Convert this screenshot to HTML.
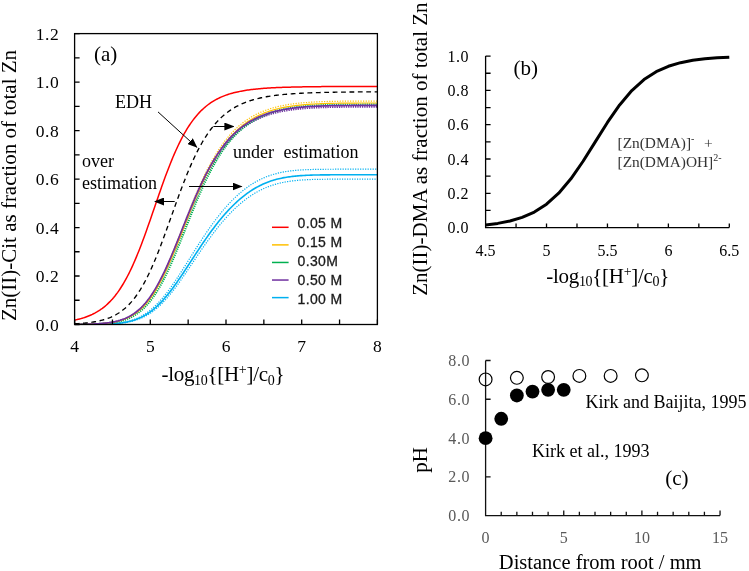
<!DOCTYPE html>
<html><head><meta charset="utf-8"><style>
html,body{margin:0;padding:0;background:#fff;}
svg{display:block;will-change:transform;}
</style></head><body>
<svg width="749" height="571" viewBox="0 0 749 571">
<rect width="749" height="571" fill="#fff"/>
<defs><clipPath id="ca"><rect x="74.6" y="33.6" width="302.79999999999995" height="290.9"/></clipPath><marker id="ah" markerWidth="10" markerHeight="8" refX="9" refY="4" orient="auto" markerUnits="userSpaceOnUse"><path d="M0,0 L10,4 L0,8 z" fill="#000"/></marker></defs>
<g clip-path="url(#ca)">
<path d="M74.60,324.49 L75.86,324.49 L77.12,324.49 L78.38,324.49 L79.65,324.48 L80.91,324.48 L82.17,324.48 L83.43,324.47 L84.69,324.47 L85.96,324.46 L87.22,324.45 L88.48,324.44 L89.74,324.43 L91.00,324.42 L92.26,324.41 L93.52,324.39 L94.79,324.38 L96.05,324.36 L97.31,324.33 L98.57,324.31 L99.83,324.28 L101.09,324.24 L102.36,324.21 L103.62,324.16 L104.88,324.11 L106.14,324.06 L107.40,324.00 L108.66,323.93 L109.93,323.85 L111.19,323.77 L112.45,323.67 L113.71,323.57 L114.97,323.45 L116.23,323.32 L117.50,323.17 L118.76,323.01 L120.02,322.84 L121.28,322.65 L122.54,322.44 L123.81,322.21 L125.07,321.95 L126.33,321.68 L127.59,321.38 L128.85,321.06 L130.11,320.71 L131.38,320.33 L132.64,319.91 L133.90,319.47 L135.16,318.99 L136.42,318.48 L137.68,317.94 L138.94,317.35 L140.21,316.72 L141.47,316.06 L142.73,315.35 L143.99,314.59 L145.25,313.79 L146.51,312.95 L147.78,312.06 L149.04,311.12 L150.30,310.13 L151.56,309.09 L152.82,308.01 L154.08,306.87 L155.35,305.68 L156.61,304.45 L157.87,303.16 L159.13,301.83 L160.39,300.45 L161.66,299.02 L162.92,297.54 L164.18,296.02 L165.44,294.45 L166.70,292.84 L167.96,291.19 L169.22,289.50 L170.49,287.77 L171.75,286.01 L173.01,284.21 L174.27,282.38 L175.53,280.53 L176.79,278.65 L178.06,276.74 L179.32,274.81 L180.58,272.87 L181.84,270.90 L183.10,268.93 L184.37,266.94 L185.63,264.94 L186.89,262.94 L188.15,260.93 L189.41,258.91 L190.67,256.90 L191.93,254.89 L193.20,252.89 L194.46,250.89 L195.72,248.90 L196.98,246.92 L198.24,244.95 L199.50,243.00 L200.77,241.06 L202.03,239.13 L203.29,237.22 L204.55,235.34 L205.81,233.47 L207.07,231.62 L208.34,229.80 L209.60,228.00 L210.86,226.22 L212.12,224.47 L213.38,222.74 L214.64,221.04 L215.91,219.37 L217.17,217.72 L218.43,216.10 L219.69,214.51 L220.95,212.95 L222.21,211.42 L223.48,209.92 L224.74,208.45 L226.00,207.01 L227.26,205.59 L228.52,204.21 L229.78,202.86 L231.05,201.54 L232.31,200.25 L233.57,198.99 L234.83,197.77 L236.09,196.57 L237.35,195.40 L238.62,194.27 L239.88,193.17 L241.14,192.09 L242.40,191.05 L243.66,190.04 L244.92,189.06 L246.19,188.11 L247.45,187.19 L248.71,186.30 L249.97,185.44 L251.23,184.61 L252.49,183.81 L253.76,183.03 L255.02,182.29 L256.28,181.57 L257.54,180.88 L258.80,180.22 L260.06,179.59 L261.33,178.98 L262.59,178.40 L263.85,177.84 L265.11,177.31 L266.37,176.80 L267.63,176.32 L268.90,175.86 L270.16,175.42 L271.42,175.00 L272.68,174.61 L273.94,174.23 L275.20,173.88 L276.47,173.55 L277.73,173.23 L278.99,172.93 L280.25,172.65 L281.51,172.39 L282.77,172.14 L284.04,171.91 L285.30,171.69 L286.56,171.49 L287.82,171.30 L289.08,171.13 L290.34,170.96 L291.61,170.81 L292.87,170.67 L294.13,170.54 L295.39,170.42 L296.65,170.30 L297.91,170.20 L299.18,170.11 L300.44,170.02 L301.70,169.94 L302.96,169.86 L304.22,169.80 L305.48,169.74 L306.75,169.68 L308.01,169.63 L309.27,169.58 L310.53,169.54 L311.79,169.50 L313.05,169.47 L314.32,169.44 L315.58,169.41 L316.84,169.39 L318.10,169.36 L319.36,169.34 L320.62,169.32 L321.89,169.31 L323.15,169.29 L324.41,169.28 L325.67,169.27 L326.93,169.26 L328.19,169.25 L329.46,169.24 L330.72,169.24 L331.98,169.23 L333.24,169.23 L334.50,169.22 L335.76,169.22 L337.03,169.22 L338.29,169.21 L339.55,169.21 L340.81,169.21 L342.07,169.21 L343.33,169.20 L344.60,169.20 L345.86,169.20 L347.12,169.20 L348.38,169.20 L349.64,169.20 L350.90,169.20 L352.17,169.20 L353.43,169.20 L354.69,169.20 L355.95,169.20 L357.21,169.20 L358.47,169.20 L359.74,169.20 L361.00,169.20 L362.26,169.20 L363.52,169.20 L364.78,169.20 L366.04,169.20 L367.31,169.20 L368.57,169.20 L369.83,169.20 L371.09,169.20 L372.35,169.20 L373.62,169.20 L374.88,169.20 L376.14,169.20 L377.40,169.20" fill="none" stroke="#00B0F0" stroke-width="1.2" stroke-dasharray="1.2 1.3"/>
<path d="M74.60,324.49 L75.86,324.49 L77.12,324.49 L78.38,324.49 L79.65,324.49 L80.91,324.49 L82.17,324.48 L83.43,324.48 L84.69,324.48 L85.96,324.47 L87.22,324.47 L88.48,324.46 L89.74,324.46 L91.00,324.45 L92.26,324.44 L93.52,324.43 L94.79,324.42 L96.05,324.41 L97.31,324.39 L98.57,324.37 L99.83,324.35 L101.09,324.33 L102.36,324.30 L103.62,324.27 L104.88,324.24 L106.14,324.20 L107.40,324.16 L108.66,324.11 L109.93,324.05 L111.19,323.99 L112.45,323.92 L113.71,323.85 L114.97,323.76 L116.23,323.67 L117.50,323.56 L118.76,323.44 L120.02,323.31 L121.28,323.17 L122.54,323.01 L123.81,322.84 L125.07,322.65 L126.33,322.44 L127.59,322.21 L128.85,321.97 L130.11,321.70 L131.38,321.40 L132.64,321.08 L133.90,320.74 L135.16,320.37 L136.42,319.96 L137.68,319.53 L138.94,319.06 L140.21,318.56 L141.47,318.03 L142.73,317.46 L143.99,316.85 L145.25,316.20 L146.51,315.51 L147.78,314.78 L149.04,314.01 L150.30,313.19 L151.56,312.33 L152.82,311.43 L154.08,310.47 L155.35,309.48 L156.61,308.43 L157.87,307.34 L159.13,306.20 L160.39,305.02 L161.66,303.79 L162.92,302.51 L164.18,301.19 L165.44,299.82 L166.70,298.41 L167.96,296.96 L169.22,295.47 L170.49,293.94 L171.75,292.38 L173.01,290.77 L174.27,289.14 L175.53,287.47 L176.79,285.77 L178.06,284.04 L179.32,282.29 L180.58,280.51 L181.84,278.72 L183.10,276.90 L184.37,275.07 L185.63,273.22 L186.89,271.37 L188.15,269.50 L189.41,267.63 L190.67,265.75 L191.93,263.86 L193.20,261.98 L194.46,260.10 L195.72,258.22 L196.98,256.35 L198.24,254.48 L199.50,252.63 L200.77,250.78 L202.03,248.94 L203.29,247.12 L204.55,245.31 L205.81,243.52 L207.07,241.75 L208.34,239.99 L209.60,238.25 L210.86,236.54 L212.12,234.84 L213.38,233.17 L214.64,231.52 L215.91,229.90 L217.17,228.30 L218.43,226.72 L219.69,225.17 L220.95,223.64 L222.21,222.15 L223.48,220.67 L224.74,219.23 L226.00,217.81 L227.26,216.42 L228.52,215.06 L229.78,213.73 L231.05,212.42 L232.31,211.15 L233.57,209.90 L234.83,208.68 L236.09,207.49 L237.35,206.33 L238.62,205.20 L239.88,204.10 L241.14,203.03 L242.40,201.98 L243.66,200.97 L244.92,199.98 L246.19,199.02 L247.45,198.09 L248.71,197.19 L249.97,196.32 L251.23,195.47 L252.49,194.66 L253.76,193.87 L255.02,193.11 L256.28,192.37 L257.54,191.67 L258.80,190.98 L260.06,190.33 L261.33,189.70 L262.59,189.10 L263.85,188.52 L265.11,187.96 L266.37,187.43 L267.63,186.92 L268.90,186.44 L270.16,185.98 L271.42,185.54 L272.68,185.12 L273.94,184.72 L275.20,184.35 L276.47,183.99 L277.73,183.65 L278.99,183.33 L280.25,183.03 L281.51,182.74 L282.77,182.47 L284.04,182.22 L285.30,181.98 L286.56,181.76 L287.82,181.55 L289.08,181.36 L290.34,181.18 L291.61,181.01 L292.87,180.85 L294.13,180.70 L295.39,180.56 L296.65,180.44 L297.91,180.32 L299.18,180.21 L300.44,180.11 L301.70,180.02 L302.96,179.94 L304.22,179.86 L305.48,179.79 L306.75,179.72 L308.01,179.66 L309.27,179.61 L310.53,179.56 L311.79,179.51 L313.05,179.47 L314.32,179.44 L315.58,179.40 L316.84,179.37 L318.10,179.35 L319.36,179.32 L320.62,179.30 L321.89,179.28 L323.15,179.26 L324.41,179.25 L325.67,179.23 L326.93,179.22 L328.19,179.21 L329.46,179.20 L330.72,179.19 L331.98,179.18 L333.24,179.18 L334.50,179.17 L335.76,179.17 L337.03,179.16 L338.29,179.16 L339.55,179.15 L340.81,179.15 L342.07,179.15 L343.33,179.15 L344.60,179.14 L345.86,179.14 L347.12,179.14 L348.38,179.14 L349.64,179.14 L350.90,179.14 L352.17,179.14 L353.43,179.14 L354.69,179.14 L355.95,179.14 L357.21,179.14 L358.47,179.14 L359.74,179.14 L361.00,179.14 L362.26,179.14 L363.52,179.13 L364.78,179.13 L366.04,179.13 L367.31,179.13 L368.57,179.13 L369.83,179.13 L371.09,179.13 L372.35,179.13 L373.62,179.13 L374.88,179.13 L376.14,179.13 L377.40,179.13" fill="none" stroke="#00B0F0" stroke-width="1.2" stroke-dasharray="1.2 1.3"/>
<path d="M74.60,324.49 L75.86,324.49 L77.12,324.49 L78.38,324.49 L79.65,324.49 L80.91,324.48 L82.17,324.48 L83.43,324.48 L84.69,324.47 L85.96,324.47 L87.22,324.46 L88.48,324.45 L89.74,324.45 L91.00,324.44 L92.26,324.43 L93.52,324.41 L94.79,324.40 L96.05,324.38 L97.31,324.36 L98.57,324.34 L99.83,324.32 L101.09,324.29 L102.36,324.26 L103.62,324.22 L104.88,324.18 L106.14,324.14 L107.40,324.09 L108.66,324.03 L109.93,323.96 L111.19,323.89 L112.45,323.81 L113.71,323.72 L114.97,323.62 L116.23,323.51 L117.50,323.39 L118.76,323.25 L120.02,323.10 L121.28,322.93 L122.54,322.75 L123.81,322.55 L125.07,322.34 L126.33,322.10 L127.59,321.84 L128.85,321.55 L130.11,321.25 L131.38,320.91 L132.64,320.55 L133.90,320.16 L135.16,319.74 L136.42,319.29 L137.68,318.80 L138.94,318.28 L140.21,317.72 L141.47,317.13 L142.73,316.49 L143.99,315.81 L145.25,315.10 L146.51,314.34 L147.78,313.53 L149.04,312.68 L150.30,311.78 L151.56,310.84 L152.82,309.85 L154.08,308.81 L155.35,307.73 L156.61,306.59 L157.87,305.41 L159.13,304.18 L160.39,302.90 L161.66,301.58 L162.92,300.21 L164.18,298.79 L165.44,297.34 L166.70,295.83 L167.96,294.29 L169.22,292.71 L170.49,291.08 L171.75,289.43 L173.01,287.73 L174.27,286.01 L175.53,284.25 L176.79,282.47 L178.06,280.66 L179.32,278.82 L180.58,276.97 L181.84,275.10 L183.10,273.21 L184.37,271.30 L185.63,269.39 L186.89,267.46 L188.15,265.53 L189.41,263.60 L190.67,261.66 L191.93,259.72 L193.20,257.78 L194.46,255.85 L195.72,253.92 L196.98,252.00 L198.24,250.09 L199.50,248.19 L200.77,246.30 L202.03,244.42 L203.29,242.57 L204.55,240.72 L205.81,238.90 L207.07,237.10 L208.34,235.31 L209.60,233.55 L210.86,231.81 L212.12,230.09 L213.38,228.40 L214.64,226.73 L215.91,225.08 L217.17,223.46 L218.43,221.87 L219.69,220.31 L220.95,218.77 L222.21,217.26 L223.48,215.77 L224.74,214.32 L226.00,212.90 L227.26,211.50 L228.52,210.13 L229.78,208.79 L231.05,207.49 L232.31,206.21 L233.57,204.96 L234.83,203.74 L236.09,202.55 L237.35,201.39 L238.62,200.26 L239.88,199.16 L241.14,198.09 L242.40,197.05 L243.66,196.04 L244.92,195.06 L246.19,194.11 L247.45,193.19 L248.71,192.29 L249.97,191.43 L251.23,190.60 L252.49,189.79 L253.76,189.01 L255.02,188.26 L256.28,187.54 L257.54,186.84 L258.80,186.17 L260.06,185.53 L261.33,184.91 L262.59,184.32 L263.85,183.75 L265.11,183.21 L266.37,182.69 L267.63,182.20 L268.90,181.73 L270.16,181.28 L271.42,180.85 L272.68,180.45 L273.94,180.06 L275.20,179.70 L276.47,179.35 L277.73,179.03 L278.99,178.72 L280.25,178.43 L281.51,178.16 L282.77,177.90 L284.04,177.66 L285.30,177.43 L286.56,177.22 L287.82,177.02 L289.08,176.84 L290.34,176.67 L291.61,176.51 L292.87,176.36 L294.13,176.22 L295.39,176.09 L296.65,175.97 L297.91,175.86 L299.18,175.76 L300.44,175.67 L301.70,175.58 L302.96,175.50 L304.22,175.43 L305.48,175.36 L306.75,175.30 L308.01,175.25 L309.27,175.20 L310.53,175.15 L311.79,175.11 L313.05,175.07 L314.32,175.04 L315.58,175.01 L316.84,174.98 L318.10,174.96 L319.36,174.94 L320.62,174.92 L321.89,174.90 L323.15,174.88 L324.41,174.87 L325.67,174.86 L326.93,174.85 L328.19,174.84 L329.46,174.83 L330.72,174.82 L331.98,174.81 L333.24,174.81 L334.50,174.80 L335.76,174.80 L337.03,174.79 L338.29,174.79 L339.55,174.79 L340.81,174.79 L342.07,174.78 L343.33,174.78 L344.60,174.78 L345.86,174.78 L347.12,174.78 L348.38,174.78 L349.64,174.78 L350.90,174.77 L352.17,174.77 L353.43,174.77 L354.69,174.77 L355.95,174.77 L357.21,174.77 L358.47,174.77 L359.74,174.77 L361.00,174.77 L362.26,174.77 L363.52,174.77 L364.78,174.77 L366.04,174.77 L367.31,174.77 L368.57,174.77 L369.83,174.77 L371.09,174.77 L372.35,174.77 L373.62,174.77 L374.88,174.77 L376.14,174.77 L377.40,174.77" fill="none" stroke="#00B0F0" stroke-width="1.6"/>
<path d="M74.60,324.43 L75.86,324.42 L77.12,324.41 L78.38,324.40 L79.65,324.39 L80.91,324.37 L82.17,324.35 L83.43,324.33 L84.69,324.31 L85.96,324.28 L87.22,324.26 L88.48,324.22 L89.74,324.19 L91.00,324.15 L92.26,324.10 L93.52,324.06 L94.79,324.00 L96.05,323.94 L97.31,323.87 L98.57,323.80 L99.83,323.71 L101.09,323.62 L102.36,323.52 L103.62,323.41 L104.88,323.28 L106.14,323.15 L107.40,323.00 L108.66,322.83 L109.93,322.65 L111.19,322.46 L112.45,322.24 L113.71,322.01 L114.97,321.75 L116.23,321.47 L117.50,321.16 L118.76,320.83 L120.02,320.47 L121.28,320.09 L122.54,319.66 L123.81,319.21 L125.07,318.72 L126.33,318.18 L127.59,317.61 L128.85,317.00 L130.11,316.34 L131.38,315.63 L132.64,314.87 L133.90,314.06 L135.16,313.19 L136.42,312.26 L137.68,311.27 L138.94,310.22 L140.21,309.11 L141.47,307.93 L142.73,306.67 L143.99,305.35 L145.25,303.95 L146.51,302.48 L147.78,300.93 L149.04,299.30 L150.30,297.59 L151.56,295.80 L152.82,293.93 L154.08,291.98 L155.35,289.94 L156.61,287.83 L157.87,285.63 L159.13,283.36 L160.39,281.01 L161.66,278.58 L162.92,276.08 L164.18,273.50 L165.44,270.86 L166.70,268.15 L167.96,265.38 L169.22,262.55 L170.49,259.67 L171.75,256.73 L173.01,253.75 L174.27,250.73 L175.53,247.68 L176.79,244.60 L178.06,241.49 L179.32,238.36 L180.58,235.21 L181.84,232.06 L183.10,228.90 L184.37,225.75 L185.63,222.60 L186.89,219.46 L188.15,216.34 L189.41,213.24 L190.67,210.17 L191.93,207.12 L193.20,204.11 L194.46,201.14 L195.72,198.21 L196.98,195.32 L198.24,192.48 L199.50,189.68 L200.77,186.94 L202.03,184.25 L203.29,181.62 L204.55,179.05 L205.81,176.53 L207.07,174.07 L208.34,171.67 L209.60,169.34 L210.86,167.06 L212.12,164.84 L213.38,162.69 L214.64,160.60 L215.91,158.57 L217.17,156.59 L218.43,154.68 L219.69,152.83 L220.95,151.03 L222.21,149.29 L223.48,147.61 L224.74,145.98 L226.00,144.41 L227.26,142.89 L228.52,141.42 L229.78,140.01 L231.05,138.64 L232.31,137.32 L233.57,136.05 L234.83,134.82 L236.09,133.64 L237.35,132.50 L238.62,131.41 L239.88,130.35 L241.14,129.33 L242.40,128.36 L243.66,127.42 L244.92,126.51 L246.19,125.64 L247.45,124.80 L248.71,124.00 L249.97,123.23 L251.23,122.49 L252.49,121.77 L253.76,121.09 L255.02,120.43 L256.28,119.80 L257.54,119.20 L258.80,118.62 L260.06,118.06 L261.33,117.53 L262.59,117.02 L263.85,116.53 L265.11,116.06 L266.37,115.61 L267.63,115.18 L268.90,114.76 L270.16,114.37 L271.42,113.99 L272.68,113.63 L273.94,113.29 L275.20,112.96 L276.47,112.64 L277.73,112.34 L278.99,112.05 L280.25,111.78 L281.51,111.51 L282.77,111.26 L284.04,111.02 L285.30,110.80 L286.56,110.58 L287.82,110.37 L289.08,110.18 L290.34,109.99 L291.61,109.81 L292.87,109.64 L294.13,109.48 L295.39,109.33 L296.65,109.18 L297.91,109.04 L299.18,108.91 L300.44,108.79 L301.70,108.67 L302.96,108.56 L304.22,108.45 L305.48,108.35 L306.75,108.26 L308.01,108.17 L309.27,108.08 L310.53,108.00 L311.79,107.93 L313.05,107.86 L314.32,107.79 L315.58,107.73 L316.84,107.67 L318.10,107.61 L319.36,107.56 L320.62,107.51 L321.89,107.46 L323.15,107.42 L324.41,107.38 L325.67,107.34 L326.93,107.30 L328.19,107.27 L329.46,107.24 L330.72,107.21 L331.98,107.18 L333.24,107.15 L334.50,107.13 L335.76,107.11 L337.03,107.09 L338.29,107.07 L339.55,107.05 L340.81,107.03 L342.07,107.02 L343.33,107.00 L344.60,106.99 L345.86,106.98 L347.12,106.97 L348.38,106.96 L349.64,106.95 L350.90,106.94 L352.17,106.93 L353.43,106.92 L354.69,106.92 L355.95,106.91 L357.21,106.90 L358.47,106.90 L359.74,106.89 L361.00,106.89 L362.26,106.89 L363.52,106.88 L364.78,106.88 L366.04,106.88 L367.31,106.87 L368.57,106.87 L369.83,106.87 L371.09,106.87 L372.35,106.86 L373.62,106.86 L374.88,106.86 L376.14,106.86 L377.40,106.86" fill="none" stroke="#7030A0" stroke-width="1.7" stroke-dasharray="1.3 1.0"/>
<path d="M74.60,324.45 L75.86,324.44 L77.12,324.43 L78.38,324.42 L79.65,324.41 L80.91,324.40 L82.17,324.39 L83.43,324.37 L84.69,324.35 L85.96,324.33 L87.22,324.31 L88.48,324.29 L89.74,324.26 L91.00,324.23 L92.26,324.19 L93.52,324.15 L94.79,324.11 L96.05,324.06 L97.31,324.00 L98.57,323.94 L99.83,323.87 L101.09,323.80 L102.36,323.71 L103.62,323.62 L104.88,323.52 L106.14,323.41 L107.40,323.28 L108.66,323.15 L109.93,323.00 L111.19,322.83 L112.45,322.65 L113.71,322.45 L114.97,322.24 L116.23,322.00 L117.50,321.75 L118.76,321.46 L120.02,321.16 L121.28,320.83 L122.54,320.47 L123.81,320.08 L125.07,319.65 L126.33,319.20 L127.59,318.70 L128.85,318.17 L130.11,317.60 L131.38,316.98 L132.64,316.32 L133.90,315.60 L135.16,314.84 L136.42,314.02 L137.68,313.15 L138.94,312.22 L140.21,311.23 L141.47,310.17 L142.73,309.05 L143.99,307.86 L145.25,306.60 L146.51,305.27 L147.78,303.87 L149.04,302.38 L150.30,300.82 L151.56,299.18 L152.82,297.47 L154.08,295.66 L155.35,293.78 L156.61,291.82 L157.87,289.77 L159.13,287.64 L160.39,285.43 L161.66,283.14 L162.92,280.76 L164.18,278.32 L165.44,275.79 L166.70,273.20 L167.96,270.53 L169.22,267.80 L170.49,265.00 L171.75,262.15 L173.01,259.24 L174.27,256.28 L175.53,253.27 L176.79,250.22 L178.06,247.13 L179.32,244.02 L180.58,240.88 L181.84,237.71 L183.10,234.54 L184.37,231.35 L185.63,228.16 L186.89,224.97 L188.15,221.78 L189.41,218.61 L190.67,215.45 L191.93,212.32 L193.20,209.20 L194.46,206.12 L195.72,203.08 L196.98,200.06 L198.24,197.10 L199.50,194.17 L200.77,191.29 L202.03,188.46 L203.29,185.68 L204.55,182.96 L205.81,180.29 L207.07,177.68 L208.34,175.13 L209.60,172.64 L210.86,170.21 L212.12,167.84 L213.38,165.53 L214.64,163.29 L215.91,161.10 L217.17,158.98 L218.43,156.92 L219.69,154.92 L220.95,152.98 L222.21,151.10 L223.48,149.28 L224.74,147.51 L226.00,145.81 L227.26,144.16 L228.52,142.56 L229.78,141.02 L231.05,139.53 L232.31,138.09 L233.57,136.71 L234.83,135.37 L236.09,134.08 L237.35,132.83 L238.62,131.63 L239.88,130.48 L241.14,129.36 L242.40,128.29 L243.66,127.26 L244.92,126.27 L246.19,125.31 L247.45,124.40 L248.71,123.51 L249.97,122.66 L251.23,121.85 L252.49,121.06 L253.76,120.31 L255.02,119.59 L256.28,118.89 L257.54,118.23 L258.80,117.59 L260.06,116.97 L261.33,116.38 L262.59,115.82 L263.85,115.28 L265.11,114.76 L266.37,114.26 L267.63,113.78 L268.90,113.33 L270.16,112.89 L271.42,112.47 L272.68,112.07 L273.94,111.69 L275.20,111.32 L276.47,110.97 L277.73,110.63 L278.99,110.31 L280.25,110.01 L281.51,109.71 L282.77,109.43 L284.04,109.17 L285.30,108.91 L286.56,108.67 L287.82,108.44 L289.08,108.22 L290.34,108.01 L291.61,107.81 L292.87,107.62 L294.13,107.44 L295.39,107.27 L296.65,107.10 L297.91,106.95 L299.18,106.80 L300.44,106.66 L301.70,106.52 L302.96,106.40 L304.22,106.28 L305.48,106.16 L306.75,106.06 L308.01,105.95 L309.27,105.86 L310.53,105.77 L311.79,105.68 L313.05,105.60 L314.32,105.52 L315.58,105.45 L316.84,105.38 L318.10,105.32 L319.36,105.26 L320.62,105.20 L321.89,105.15 L323.15,105.10 L324.41,105.05 L325.67,105.00 L326.93,104.96 L328.19,104.92 L329.46,104.89 L330.72,104.85 L331.98,104.82 L333.24,104.79 L334.50,104.76 L335.76,104.74 L337.03,104.71 L338.29,104.69 L339.55,104.67 L340.81,104.65 L342.07,104.63 L343.33,104.61 L344.60,104.60 L345.86,104.58 L347.12,104.57 L348.38,104.56 L349.64,104.55 L350.90,104.54 L352.17,104.53 L353.43,104.52 L354.69,104.51 L355.95,104.50 L357.21,104.49 L358.47,104.49 L359.74,104.48 L361.00,104.48 L362.26,104.47 L363.52,104.47 L364.78,104.46 L366.04,104.46 L367.31,104.45 L368.57,104.45 L369.83,104.45 L371.09,104.45 L372.35,104.44 L373.62,104.44 L374.88,104.44 L376.14,104.44 L377.40,104.44" fill="none" stroke="#00B050" stroke-width="2.2" stroke-dasharray="1.2 1.0"/>
<path d="M74.60,324.44 L75.86,324.43 L77.12,324.42 L78.38,324.41 L79.65,324.40 L80.91,324.38 L82.17,324.36 L83.43,324.34 L84.69,324.32 L85.96,324.30 L87.22,324.27 L88.48,324.24 L89.74,324.21 L91.00,324.17 L92.26,324.13 L93.52,324.08 L94.79,324.03 L96.05,323.97 L97.31,323.91 L98.57,323.84 L99.83,323.76 L101.09,323.67 L102.36,323.58 L103.62,323.47 L104.88,323.35 L106.14,323.22 L107.40,323.08 L108.66,322.93 L109.93,322.75 L111.19,322.57 L112.45,322.36 L113.71,322.14 L114.97,321.89 L116.23,321.62 L117.50,321.33 L118.76,321.01 L120.02,320.67 L121.28,320.30 L122.54,319.89 L123.81,319.45 L125.07,318.98 L126.33,318.47 L127.59,317.91 L128.85,317.32 L130.11,316.68 L131.38,315.99 L132.64,315.26 L133.90,314.47 L135.16,313.63 L136.42,312.73 L137.68,311.77 L138.94,310.75 L140.21,309.66 L141.47,308.50 L142.73,307.28 L143.99,305.99 L145.25,304.62 L146.51,303.17 L147.78,301.65 L149.04,300.05 L150.30,298.37 L151.56,296.61 L152.82,294.76 L154.08,292.84 L155.35,290.83 L156.61,288.73 L157.87,286.56 L159.13,284.30 L160.39,281.96 L161.66,279.55 L162.92,277.05 L164.18,274.49 L165.44,271.85 L166.70,269.14 L167.96,266.36 L169.22,263.52 L170.49,260.63 L171.75,257.68 L173.01,254.68 L174.27,251.64 L175.53,248.55 L176.79,245.43 L178.06,242.29 L179.32,239.12 L180.58,235.93 L181.84,232.72 L183.10,229.51 L184.37,226.30 L185.63,223.09 L186.89,219.89 L188.15,216.70 L189.41,213.53 L190.67,210.38 L191.93,207.26 L193.20,204.17 L194.46,201.12 L195.72,198.10 L196.98,195.13 L198.24,192.20 L199.50,189.32 L200.77,186.49 L202.03,183.72 L203.29,181.00 L204.55,178.34 L205.81,175.73 L207.07,173.19 L208.34,170.70 L209.60,168.28 L210.86,165.92 L212.12,163.62 L213.38,161.38 L214.64,159.20 L215.91,157.09 L217.17,155.04 L218.43,153.05 L219.69,151.12 L220.95,149.25 L222.21,147.44 L223.48,145.68 L224.74,143.99 L226.00,142.35 L227.26,140.76 L228.52,139.23 L229.78,137.75 L231.05,136.32 L232.31,134.95 L233.57,133.62 L234.83,132.34 L236.09,131.10 L237.35,129.91 L238.62,128.76 L239.88,127.66 L241.14,126.60 L242.40,125.57 L243.66,124.59 L244.92,123.64 L246.19,122.73 L247.45,121.86 L248.71,121.01 L249.97,120.20 L251.23,119.43 L252.49,118.68 L253.76,117.96 L255.02,117.27 L256.28,116.61 L257.54,115.98 L258.80,115.37 L260.06,114.79 L261.33,114.23 L262.59,113.69 L263.85,113.18 L265.11,112.68 L266.37,112.21 L267.63,111.76 L268.90,111.33 L270.16,110.91 L271.42,110.52 L272.68,110.14 L273.94,109.77 L275.20,109.43 L276.47,109.09 L277.73,108.78 L278.99,108.47 L280.25,108.19 L281.51,107.91 L282.77,107.65 L284.04,107.39 L285.30,107.15 L286.56,106.93 L287.82,106.71 L289.08,106.50 L290.34,106.30 L291.61,106.11 L292.87,105.94 L294.13,105.77 L295.39,105.60 L296.65,105.45 L297.91,105.30 L299.18,105.17 L300.44,105.03 L301.70,104.91 L302.96,104.79 L304.22,104.68 L305.48,104.57 L306.75,104.47 L308.01,104.38 L309.27,104.29 L310.53,104.20 L311.79,104.12 L313.05,104.05 L314.32,103.98 L315.58,103.91 L316.84,103.85 L318.10,103.79 L319.36,103.73 L320.62,103.68 L321.89,103.63 L323.15,103.58 L324.41,103.54 L325.67,103.50 L326.93,103.46 L328.19,103.42 L329.46,103.39 L330.72,103.36 L331.98,103.33 L333.24,103.30 L334.50,103.27 L335.76,103.25 L337.03,103.23 L338.29,103.21 L339.55,103.19 L340.81,103.17 L342.07,103.15 L343.33,103.14 L344.60,103.12 L345.86,103.11 L347.12,103.10 L348.38,103.09 L349.64,103.08 L350.90,103.07 L352.17,103.06 L353.43,103.05 L354.69,103.04 L355.95,103.04 L357.21,103.03 L358.47,103.02 L359.74,103.02 L361.00,103.01 L362.26,103.01 L363.52,103.01 L364.78,103.00 L366.04,103.00 L367.31,103.00 L368.57,102.99 L369.83,102.99 L371.09,102.99 L372.35,102.99 L373.62,102.98 L374.88,102.98 L376.14,102.98 L377.40,102.98" fill="none" stroke="#FFC000" stroke-width="1.2"/>
<path d="M74.60,324.43 L75.86,324.42 L77.12,324.41 L78.38,324.40 L79.65,324.38 L80.91,324.37 L82.17,324.35 L83.43,324.33 L84.69,324.31 L85.96,324.28 L87.22,324.25 L88.48,324.22 L89.74,324.18 L91.00,324.14 L92.26,324.09 L93.52,324.04 L94.79,323.99 L96.05,323.92 L97.31,323.85 L98.57,323.78 L99.83,323.69 L101.09,323.60 L102.36,323.49 L103.62,323.38 L104.88,323.25 L106.14,323.11 L107.40,322.96 L108.66,322.79 L109.93,322.60 L111.19,322.40 L112.45,322.18 L113.71,321.94 L114.97,321.68 L116.23,321.39 L117.50,321.08 L118.76,320.74 L120.02,320.37 L121.28,319.97 L122.54,319.53 L123.81,319.07 L125.07,318.56 L126.33,318.02 L127.59,317.43 L128.85,316.80 L130.11,316.12 L131.38,315.39 L132.64,314.61 L133.90,313.78 L135.16,312.88 L136.42,311.93 L137.68,310.92 L138.94,309.84 L140.21,308.70 L141.47,307.48 L142.73,306.20 L143.99,304.84 L145.25,303.40 L146.51,301.89 L147.78,300.30 L149.04,298.62 L150.30,296.87 L151.56,295.03 L152.82,293.11 L154.08,291.11 L155.35,289.02 L156.61,286.85 L157.87,284.60 L159.13,282.26 L160.39,279.84 L161.66,277.35 L162.92,274.78 L164.18,272.14 L165.44,269.42 L166.70,266.64 L167.96,263.80 L169.22,260.89 L170.49,257.93 L171.75,254.92 L173.01,251.86 L174.27,248.76 L175.53,245.63 L176.79,242.46 L178.06,239.27 L179.32,236.05 L180.58,232.83 L181.84,229.59 L183.10,226.35 L184.37,223.11 L185.63,219.88 L186.89,216.65 L188.15,213.45 L189.41,210.27 L190.67,207.11 L191.93,203.99 L193.20,200.90 L194.46,197.84 L195.72,194.83 L196.98,191.87 L198.24,188.95 L199.50,186.08 L200.77,183.26 L202.03,180.51 L203.29,177.80 L204.55,175.16 L205.81,172.57 L207.07,170.05 L208.34,167.59 L209.60,165.19 L210.86,162.85 L212.12,160.58 L213.38,158.37 L214.64,156.22 L215.91,154.13 L217.17,152.10 L218.43,150.14 L219.69,148.24 L220.95,146.39 L222.21,144.61 L223.48,142.88 L224.74,141.21 L226.00,139.60 L227.26,138.04 L228.52,136.53 L229.78,135.08 L231.05,133.67 L232.31,132.32 L233.57,131.01 L234.83,129.75 L236.09,128.54 L237.35,127.37 L238.62,126.24 L239.88,125.16 L241.14,124.12 L242.40,123.11 L243.66,122.15 L244.92,121.22 L246.19,120.32 L247.45,119.47 L248.71,118.64 L249.97,117.85 L251.23,117.09 L252.49,116.35 L253.76,115.65 L255.02,114.98 L256.28,114.33 L257.54,113.71 L258.80,113.11 L260.06,112.54 L261.33,112.00 L262.59,111.47 L263.85,110.97 L265.11,110.49 L266.37,110.02 L267.63,109.58 L268.90,109.16 L270.16,108.75 L271.42,108.37 L272.68,107.99 L273.94,107.64 L275.20,107.30 L276.47,106.98 L277.73,106.67 L278.99,106.37 L280.25,106.09 L281.51,105.82 L282.77,105.56 L284.04,105.32 L285.30,105.08 L286.56,104.86 L287.82,104.65 L289.08,104.45 L290.34,104.26 L291.61,104.07 L292.87,103.90 L294.13,103.73 L295.39,103.58 L296.65,103.43 L297.91,103.28 L299.18,103.15 L300.44,103.02 L301.70,102.90 L302.96,102.79 L304.22,102.68 L305.48,102.57 L306.75,102.48 L308.01,102.38 L309.27,102.30 L310.53,102.22 L311.79,102.14 L313.05,102.06 L314.32,102.00 L315.58,101.93 L316.84,101.87 L318.10,101.81 L319.36,101.76 L320.62,101.71 L321.89,101.66 L323.15,101.61 L324.41,101.57 L325.67,101.53 L326.93,101.50 L328.19,101.46 L329.46,101.43 L330.72,101.40 L331.98,101.37 L333.24,101.34 L334.50,101.32 L335.76,101.30 L337.03,101.28 L338.29,101.26 L339.55,101.24 L340.81,101.22 L342.07,101.21 L343.33,101.19 L344.60,101.18 L345.86,101.16 L347.12,101.15 L348.38,101.14 L349.64,101.13 L350.90,101.12 L352.17,101.11 L353.43,101.11 L354.69,101.10 L355.95,101.09 L357.21,101.09 L358.47,101.08 L359.74,101.08 L361.00,101.07 L362.26,101.07 L363.52,101.06 L364.78,101.06 L366.04,101.06 L367.31,101.05 L368.57,101.05 L369.83,101.05 L371.09,101.05 L372.35,101.05 L373.62,101.04 L374.88,101.04 L376.14,101.04 L377.40,101.04" fill="none" stroke="#FFC000" stroke-width="1.2" stroke-dasharray="1.2 1.4"/>
<path d="M74.60,324.43 L75.86,324.42 L77.12,324.41 L78.38,324.39 L79.65,324.38 L80.91,324.36 L82.17,324.34 L83.43,324.32 L84.69,324.30 L85.96,324.27 L87.22,324.24 L88.48,324.21 L89.74,324.17 L91.00,324.13 L92.26,324.08 L93.52,324.03 L94.79,323.97 L96.05,323.91 L97.31,323.84 L98.57,323.76 L99.83,323.67 L101.09,323.57 L102.36,323.47 L103.62,323.35 L104.88,323.22 L106.14,323.08 L107.40,322.92 L108.66,322.75 L109.93,322.56 L111.19,322.35 L112.45,322.13 L113.71,321.88 L114.97,321.62 L116.23,321.32 L117.50,321.01 L118.76,320.66 L120.02,320.29 L121.28,319.88 L122.54,319.44 L123.81,318.97 L125.07,318.46 L126.33,317.91 L127.59,317.31 L128.85,316.67 L130.11,315.99 L131.38,315.25 L132.64,314.47 L133.90,313.63 L135.16,312.73 L136.42,311.77 L137.68,310.75 L138.94,309.67 L140.21,308.51 L141.47,307.29 L142.73,306.00 L143.99,304.64 L145.25,303.20 L146.51,301.68 L147.78,300.09 L149.04,298.42 L150.30,296.66 L151.56,294.83 L152.82,292.91 L154.08,290.91 L155.35,288.83 L156.61,286.67 L157.87,284.42 L159.13,282.10 L160.39,279.70 L161.66,277.22 L162.92,274.67 L164.18,272.05 L165.44,269.36 L166.70,266.61 L167.96,263.79 L169.22,260.92 L170.49,258.00 L171.75,255.03 L173.01,252.01 L174.27,248.95 L175.53,245.87 L176.79,242.75 L178.06,239.61 L179.32,236.45 L180.58,233.28 L181.84,230.11 L183.10,226.93 L184.37,223.76 L185.63,220.59 L186.89,217.44 L188.15,214.31 L189.41,211.20 L190.67,208.11 L191.93,205.06 L193.20,202.05 L194.46,199.07 L195.72,196.14 L196.98,193.25 L198.24,190.41 L199.50,187.62 L200.77,184.88 L202.03,182.20 L203.29,179.57 L204.55,177.00 L205.81,174.49 L207.07,172.05 L208.34,169.66 L209.60,167.33 L210.86,165.06 L212.12,162.86 L213.38,160.72 L214.64,158.64 L215.91,156.61 L217.17,154.65 L218.43,152.75 L219.69,150.91 L220.95,149.13 L222.21,147.40 L223.48,145.73 L224.74,144.12 L226.00,142.56 L227.26,141.05 L228.52,139.60 L229.78,138.19 L231.05,136.83 L232.31,135.53 L233.57,134.27 L234.83,133.05 L236.09,131.88 L237.35,130.75 L238.62,129.66 L239.88,128.62 L241.14,127.61 L242.40,126.64 L243.66,125.71 L244.92,124.82 L246.19,123.95 L247.45,123.13 L248.71,122.33 L249.97,121.57 L251.23,120.83 L252.49,120.13 L253.76,119.45 L255.02,118.80 L256.28,118.18 L257.54,117.58 L258.80,117.00 L260.06,116.45 L261.33,115.93 L262.59,115.42 L263.85,114.94 L265.11,114.47 L266.37,114.03 L267.63,113.60 L268.90,113.19 L270.16,112.80 L271.42,112.43 L272.68,112.07 L273.94,111.73 L275.20,111.41 L276.47,111.10 L277.73,110.80 L278.99,110.51 L280.25,110.24 L281.51,109.98 L282.77,109.74 L284.04,109.50 L285.30,109.28 L286.56,109.06 L287.82,108.86 L289.08,108.66 L290.34,108.48 L291.61,108.30 L292.87,108.14 L294.13,107.98 L295.39,107.83 L296.65,107.68 L297.91,107.55 L299.18,107.42 L300.44,107.30 L301.70,107.18 L302.96,107.07 L304.22,106.97 L305.48,106.87 L306.75,106.77 L308.01,106.69 L309.27,106.60 L310.53,106.52 L311.79,106.45 L313.05,106.38 L314.32,106.31 L315.58,106.25 L316.84,106.19 L318.10,106.14 L319.36,106.09 L320.62,106.04 L321.89,105.99 L323.15,105.95 L324.41,105.91 L325.67,105.87 L326.93,105.84 L328.19,105.80 L329.46,105.77 L330.72,105.74 L331.98,105.72 L333.24,105.69 L334.50,105.67 L335.76,105.65 L337.03,105.63 L338.29,105.61 L339.55,105.59 L340.81,105.57 L342.07,105.56 L343.33,105.55 L344.60,105.53 L345.86,105.52 L347.12,105.51 L348.38,105.50 L349.64,105.49 L350.90,105.48 L352.17,105.47 L353.43,105.47 L354.69,105.46 L355.95,105.45 L357.21,105.45 L358.47,105.44 L359.74,105.44 L361.00,105.43 L362.26,105.43 L363.52,105.43 L364.78,105.42 L366.04,105.42 L367.31,105.42 L368.57,105.41 L369.83,105.41 L371.09,105.41 L372.35,105.41 L373.62,105.41 L374.88,105.41 L376.14,105.40 L377.40,105.40" fill="none" stroke="#7030A0" stroke-width="1.7"/>
<path d="M74.60,323.79 L75.86,323.72 L77.12,323.65 L78.38,323.57 L79.65,323.49 L80.91,323.40 L82.17,323.30 L83.43,323.20 L84.69,323.08 L85.96,322.96 L87.22,322.83 L88.48,322.68 L89.74,322.53 L91.00,322.36 L92.26,322.18 L93.52,321.98 L94.79,321.77 L96.05,321.54 L97.31,321.30 L98.57,321.03 L99.83,320.75 L101.09,320.45 L102.36,320.12 L103.62,319.77 L104.88,319.39 L106.14,318.98 L107.40,318.55 L108.66,318.08 L109.93,317.58 L111.19,317.05 L112.45,316.48 L113.71,315.87 L114.97,315.22 L116.23,314.53 L117.50,313.79 L118.76,313.00 L120.02,312.16 L121.28,311.27 L122.54,310.32 L123.81,309.32 L125.07,308.25 L126.33,307.12 L127.59,305.93 L128.85,304.66 L130.11,303.33 L131.38,301.92 L132.64,300.43 L133.90,298.87 L135.16,297.23 L136.42,295.50 L137.68,293.69 L138.94,291.80 L140.21,289.82 L141.47,287.75 L142.73,285.59 L143.99,283.34 L145.25,281.00 L146.51,278.57 L147.78,276.06 L149.04,273.45 L150.30,270.76 L151.56,267.99 L152.82,265.13 L154.08,262.19 L155.35,259.18 L156.61,256.09 L157.87,252.94 L159.13,249.72 L160.39,246.44 L161.66,243.11 L162.92,239.73 L164.18,236.30 L165.44,232.84 L166.70,229.35 L167.96,225.83 L169.22,222.30 L170.49,218.76 L171.75,215.21 L173.01,211.67 L174.27,208.13 L175.53,204.61 L176.79,201.12 L178.06,197.65 L179.32,194.21 L180.58,190.82 L181.84,187.47 L183.10,184.17 L184.37,180.92 L185.63,177.73 L186.89,174.61 L188.15,171.55 L189.41,168.55 L190.67,165.63 L191.93,162.78 L193.20,160.01 L194.46,157.31 L195.72,154.69 L196.98,152.14 L198.24,149.68 L199.50,147.29 L200.77,144.98 L202.03,142.75 L203.29,140.60 L204.55,138.52 L205.81,136.52 L207.07,134.59 L208.34,132.73 L209.60,130.95 L210.86,129.23 L212.12,127.58 L213.38,126.00 L214.64,124.48 L215.91,123.03 L217.17,121.64 L218.43,120.30 L219.69,119.02 L220.95,117.80 L222.21,116.63 L223.48,115.50 L224.74,114.43 L226.00,113.41 L227.26,112.43 L228.52,111.50 L229.78,110.60 L231.05,109.75 L232.31,108.94 L233.57,108.16 L234.83,107.42 L236.09,106.71 L237.35,106.03 L238.62,105.39 L239.88,104.77 L241.14,104.18 L242.40,103.62 L243.66,103.09 L244.92,102.58 L246.19,102.09 L247.45,101.63 L248.71,101.18 L249.97,100.76 L251.23,100.36 L252.49,99.98 L253.76,99.61 L255.02,99.26 L256.28,98.93 L257.54,98.61 L258.80,98.30 L260.06,98.01 L261.33,97.74 L262.59,97.47 L263.85,97.22 L265.11,96.98 L266.37,96.75 L267.63,96.53 L268.90,96.32 L270.16,96.13 L271.42,95.93 L272.68,95.75 L273.94,95.58 L275.20,95.41 L276.47,95.25 L277.73,95.10 L278.99,94.96 L280.25,94.82 L281.51,94.69 L282.77,94.56 L284.04,94.44 L285.30,94.33 L286.56,94.22 L287.82,94.11 L289.08,94.01 L290.34,93.91 L291.61,93.82 L292.87,93.73 L294.13,93.65 L295.39,93.57 L296.65,93.49 L297.91,93.42 L299.18,93.35 L300.44,93.28 L301.70,93.21 L302.96,93.15 L304.22,93.09 L305.48,93.04 L306.75,92.98 L308.01,92.93 L309.27,92.88 L310.53,92.83 L311.79,92.78 L313.05,92.74 L314.32,92.70 L315.58,92.66 L316.84,92.62 L318.10,92.58 L319.36,92.55 L320.62,92.51 L321.89,92.48 L323.15,92.45 L324.41,92.42 L325.67,92.39 L326.93,92.36 L328.19,92.34 L329.46,92.31 L330.72,92.29 L331.98,92.26 L333.24,92.24 L334.50,92.22 L335.76,92.20 L337.03,92.18 L338.29,92.16 L339.55,92.14 L340.81,92.12 L342.07,92.11 L343.33,92.09 L344.60,92.07 L345.86,92.06 L347.12,92.04 L348.38,92.03 L349.64,92.02 L350.90,92.00 L352.17,91.99 L353.43,91.98 L354.69,91.97 L355.95,91.96 L357.21,91.95 L358.47,91.94 L359.74,91.93 L361.00,91.92 L362.26,91.91 L363.52,91.90 L364.78,91.89 L366.04,91.88 L367.31,91.88 L368.57,91.87 L369.83,91.86 L371.09,91.86 L372.35,91.85 L373.62,91.84 L374.88,91.84 L376.14,91.83 L377.40,91.82" fill="none" stroke="#000" stroke-width="1.35" stroke-dasharray="4.8 3.6"/>
<path d="M74.60,320.13 L75.86,319.86 L77.12,319.58 L78.38,319.27 L79.65,318.95 L80.91,318.61 L82.17,318.24 L83.43,317.86 L84.69,317.45 L85.96,317.01 L87.22,316.55 L88.48,316.06 L89.74,315.54 L91.00,314.99 L92.26,314.41 L93.52,313.79 L94.79,313.14 L96.05,312.44 L97.31,311.71 L98.57,310.93 L99.83,310.11 L101.09,309.24 L102.36,308.32 L103.62,307.35 L104.88,306.33 L106.14,305.25 L107.40,304.11 L108.66,302.91 L109.93,301.65 L111.19,300.32 L112.45,298.92 L113.71,297.45 L114.97,295.91 L116.23,294.29 L117.50,292.60 L118.76,290.82 L120.02,288.96 L121.28,287.02 L122.54,284.99 L123.81,282.88 L125.07,280.68 L126.33,278.39 L127.59,276.01 L128.85,273.54 L130.11,270.98 L131.38,268.33 L132.64,265.60 L133.90,262.78 L135.16,259.87 L136.42,256.88 L137.68,253.81 L138.94,250.67 L140.21,247.45 L141.47,244.16 L142.73,240.81 L143.99,237.39 L145.25,233.92 L146.51,230.41 L147.78,226.85 L149.04,223.25 L150.30,219.63 L151.56,215.98 L152.82,212.32 L154.08,208.65 L155.35,204.97 L156.61,201.30 L157.87,197.65 L159.13,194.01 L160.39,190.40 L161.66,186.83 L162.92,183.29 L164.18,179.80 L165.44,176.36 L166.70,172.98 L167.96,169.66 L169.22,166.40 L170.49,163.22 L171.75,160.10 L173.01,157.07 L174.27,154.11 L175.53,151.23 L176.79,148.44 L178.06,145.73 L179.32,143.11 L180.58,140.58 L181.84,138.13 L183.10,135.76 L184.37,133.49 L185.63,131.30 L186.89,129.19 L188.15,127.16 L189.41,125.22 L190.67,123.35 L191.93,121.57 L193.20,119.86 L194.46,118.22 L195.72,116.66 L196.98,115.17 L198.24,113.74 L199.50,112.38 L200.77,111.09 L202.03,109.85 L203.29,108.68 L204.55,107.56 L205.81,106.49 L207.07,105.48 L208.34,104.51 L209.60,103.60 L210.86,102.73 L212.12,101.90 L213.38,101.11 L214.64,100.37 L215.91,99.66 L217.17,98.99 L218.43,98.35 L219.69,97.74 L220.95,97.17 L222.21,96.63 L223.48,96.11 L224.74,95.62 L226.00,95.15 L227.26,94.71 L228.52,94.30 L229.78,93.90 L231.05,93.52 L232.31,93.17 L233.57,92.83 L234.83,92.51 L236.09,92.21 L237.35,91.92 L238.62,91.65 L239.88,91.39 L241.14,91.14 L242.40,90.91 L243.66,90.69 L244.92,90.48 L246.19,90.28 L247.45,90.09 L248.71,89.91 L249.97,89.74 L251.23,89.58 L252.49,89.43 L253.76,89.28 L255.02,89.15 L256.28,89.01 L257.54,88.89 L258.80,88.77 L260.06,88.66 L261.33,88.55 L262.59,88.45 L263.85,88.35 L265.11,88.26 L266.37,88.18 L267.63,88.09 L268.90,88.01 L270.16,87.94 L271.42,87.87 L272.68,87.80 L273.94,87.73 L275.20,87.67 L276.47,87.61 L277.73,87.56 L278.99,87.51 L280.25,87.45 L281.51,87.41 L282.77,87.36 L284.04,87.32 L285.30,87.27 L286.56,87.23 L287.82,87.20 L289.08,87.16 L290.34,87.13 L291.61,87.09 L292.87,87.06 L294.13,87.03 L295.39,87.00 L296.65,86.97 L297.91,86.95 L299.18,86.92 L300.44,86.90 L301.70,86.88 L302.96,86.85 L304.22,86.83 L305.48,86.81 L306.75,86.79 L308.01,86.78 L309.27,86.76 L310.53,86.74 L311.79,86.73 L313.05,86.71 L314.32,86.70 L315.58,86.68 L316.84,86.67 L318.10,86.65 L319.36,86.64 L320.62,86.63 L321.89,86.62 L323.15,86.61 L324.41,86.60 L325.67,86.59 L326.93,86.58 L328.19,86.57 L329.46,86.56 L330.72,86.55 L331.98,86.54 L333.24,86.54 L334.50,86.53 L335.76,86.52 L337.03,86.52 L338.29,86.51 L339.55,86.50 L340.81,86.50 L342.07,86.49 L343.33,86.49 L344.60,86.48 L345.86,86.48 L347.12,86.47 L348.38,86.47 L349.64,86.46 L350.90,86.46 L352.17,86.46 L353.43,86.45 L354.69,86.45 L355.95,86.45 L357.21,86.44 L358.47,86.44 L359.74,86.44 L361.00,86.44 L362.26,86.43 L363.52,86.43 L364.78,86.43 L366.04,86.43 L367.31,86.43 L368.57,86.43 L369.83,86.42 L371.09,86.42 L372.35,86.42 L373.62,86.42 L374.88,86.42 L376.14,86.42 L377.40,86.42" fill="none" stroke="#FF0000" stroke-width="1.5"/>
</g>
<rect x="74.6" y="33.6" width="302.80" height="290.90" fill="none" stroke="#000" stroke-width="1.3"/>
<path d="M74.6,324.50 h5 M74.6,300.26 h5 M74.6,276.02 h5 M74.6,251.77 h5 M74.6,227.53 h5 M74.6,203.29 h5 M74.6,179.05 h5 M74.6,154.81 h5 M74.6,130.57 h5 M74.6,106.32 h5 M74.6,82.08 h5 M74.6,57.84 h5 M74.6,33.60 h5 M74.60,324.5 v-5 M112.45,324.5 v-5 M150.30,324.5 v-5 M188.15,324.5 v-5 M226.00,324.5 v-5 M263.85,324.5 v-5 M301.70,324.5 v-5 M339.55,324.5 v-5 M377.40,324.5 v-5" stroke="#000" stroke-width="1.3" fill="none"/>
<text x="59.4" y="330.70" text-anchor="end" style="font-family:'Liberation Serif',serif;font-size:17.5px;letter-spacing:0.6px">0.0</text>
<text x="59.4" y="282.22" text-anchor="end" style="font-family:'Liberation Serif',serif;font-size:17.5px;letter-spacing:0.6px">0.2</text>
<text x="59.4" y="233.73" text-anchor="end" style="font-family:'Liberation Serif',serif;font-size:17.5px;letter-spacing:0.6px">0.4</text>
<text x="59.4" y="185.25" text-anchor="end" style="font-family:'Liberation Serif',serif;font-size:17.5px;letter-spacing:0.6px">0.6</text>
<text x="59.4" y="136.77" text-anchor="end" style="font-family:'Liberation Serif',serif;font-size:17.5px;letter-spacing:0.6px">0.8</text>
<text x="59.4" y="88.28" text-anchor="end" style="font-family:'Liberation Serif',serif;font-size:17.5px;letter-spacing:0.6px">1.0</text>
<text x="59.4" y="39.80" text-anchor="end" style="font-family:'Liberation Serif',serif;font-size:17.5px;letter-spacing:0.6px">1.2</text>
<text x="74.60" y="352" text-anchor="middle" style="font-family:'Liberation Serif',serif;font-size:17.5px">4</text>
<text x="150.30" y="352" text-anchor="middle" style="font-family:'Liberation Serif',serif;font-size:17.5px">5</text>
<text x="226.00" y="352" text-anchor="middle" style="font-family:'Liberation Serif',serif;font-size:17.5px">6</text>
<text x="301.70" y="352" text-anchor="middle" style="font-family:'Liberation Serif',serif;font-size:17.5px">7</text>
<text x="377.40" y="352" text-anchor="middle" style="font-family:'Liberation Serif',serif;font-size:17.5px">8</text>
<text transform="translate(16.3,185.5) rotate(-90)" text-anchor="middle" style="font-family:'Liberation Serif',serif;font-size:21px">Zn(II)-Cit as fraction of total Zn</text>
<text x="161.5" y="381.3" textLength="123" lengthAdjust="spacing" style="font-family:'Liberation Serif',serif;font-size:21px">-log<tspan style="font-size:14px" dy="3.5">10</tspan><tspan dy="-3.5">{[H</tspan><tspan style="font-size:14px" dy="-7">+</tspan><tspan dy="7">]/c</tspan><tspan style="font-size:14px" dy="3.5">0</tspan><tspan dy="-3.5">}</tspan></text>
<text x="94" y="60.8" style="font-family:'Liberation Serif',serif;font-size:21px">(a)</text>
<text x="115" y="108.4" style="font-family:'Liberation Serif',serif;font-size:18px">EDH</text>
<text x="82" y="167.2" style="font-family:'Liberation Serif',serif;font-size:18px">over</text>
<text x="82" y="188.5" style="font-family:'Liberation Serif',serif;font-size:18px">estimation</text>
<text x="233" y="157.5" style="font-family:'Liberation Serif',serif;font-size:18px">under</text>
<text x="283.6" y="157.5" style="font-family:'Liberation Serif',serif;font-size:18px">estimation</text>
<g stroke="#000" stroke-width="1" fill="none" marker-end="url(#ah)">
<path d="M158,111.9 L196.7,147.2"/>
<path d="M213.4,126.5 L233.4,126.5"/>
<path d="M189,186.5 L241.5,186.5"/>
<path d="M174.7,201.5 L155,201.5"/>
</g>
<path d="M272,227.30 h16.6" stroke="#FF0000" stroke-width="1.5"/>
<text x="297.6" y="227.80" style="font-family:'Liberation Sans',sans-serif;font-size:14px;letter-spacing:0.35px;fill:#1a1a1a;stroke:#1a1a1a;stroke-width:0.3px">0.05 M</text>
<path d="M272,244.88 h16.6" stroke="#FFC000" stroke-width="1.5"/>
<text x="297.6" y="246.77" style="font-family:'Liberation Sans',sans-serif;font-size:14px;letter-spacing:0.35px;fill:#1a1a1a;stroke:#1a1a1a;stroke-width:0.3px">0.15 M</text>
<path d="M272,262.46 h16.6" stroke="#00B050" stroke-width="1.5"/>
<text x="297.6" y="265.74" style="font-family:'Liberation Sans',sans-serif;font-size:14px;letter-spacing:0.35px;fill:#1a1a1a;stroke:#1a1a1a;stroke-width:0.3px">0.30M</text>
<path d="M272,280.04 h16.6" stroke="#7030A0" stroke-width="1.5"/>
<text x="297.6" y="284.71" style="font-family:'Liberation Sans',sans-serif;font-size:14px;letter-spacing:0.35px;fill:#1a1a1a;stroke:#1a1a1a;stroke-width:0.3px">0.50 M</text>
<path d="M272,297.62 h16.6" stroke="#00B0F0" stroke-width="1.5"/>
<text x="297.6" y="303.68" style="font-family:'Liberation Sans',sans-serif;font-size:14px;letter-spacing:0.35px;fill:#1a1a1a;stroke:#1a1a1a;stroke-width:0.3px">1.00 M</text>
<path d="M485.60,224.92 L497.78,223.40 L509.97,221.03 L522.15,217.42 L534.34,212.01 L546.52,204.14 L558.71,193.17 L570.89,178.77 L583.08,161.25 L595.26,141.85 L607.45,122.45 L619.63,104.93 L631.82,90.53 L644.00,79.56 L656.19,71.69 L668.38,66.28 L680.56,62.67 L692.75,60.30 L704.93,58.78 L717.12,57.80 L729.30,57.18" fill="none" stroke="#000" stroke-width="3" stroke-linejoin="round"/>
<path d="M485.6,56.1 V227.6 H729.3 M485.6,227.60 h5 M485.6,210.45 h5 M485.6,193.30 h5 M485.6,176.15 h5 M485.6,159.00 h5 M485.6,141.85 h5 M485.6,124.70 h5 M485.6,107.55 h5 M485.6,90.40 h5 M485.6,73.25 h5 M485.6,56.10 h5 M516.06,227.6 v-4 M546.52,227.6 v-4 M576.99,227.6 v-4 M607.45,227.6 v-4 M637.91,227.6 v-4 M668.38,227.6 v-4 M698.84,227.6 v-4 M729.30,227.6 v-4" stroke="#000" stroke-width="1.3" fill="none"/>
<text x="469.2" y="233.20" text-anchor="end" style="font-family:'Liberation Serif',serif;font-size:16px;letter-spacing:0.6px">0.0</text>
<text x="469.2" y="198.90" text-anchor="end" style="font-family:'Liberation Serif',serif;font-size:16px;letter-spacing:0.6px">0.2</text>
<text x="469.2" y="164.60" text-anchor="end" style="font-family:'Liberation Serif',serif;font-size:16px;letter-spacing:0.6px">0.4</text>
<text x="469.2" y="130.30" text-anchor="end" style="font-family:'Liberation Serif',serif;font-size:16px;letter-spacing:0.6px">0.6</text>
<text x="469.2" y="96.00" text-anchor="end" style="font-family:'Liberation Serif',serif;font-size:16px;letter-spacing:0.6px">0.8</text>
<text x="469.2" y="61.70" text-anchor="end" style="font-family:'Liberation Serif',serif;font-size:16px;letter-spacing:0.6px">1.0</text>
<text x="485.60" y="256.3" text-anchor="middle" style="font-family:'Liberation Serif',serif;font-size:16px">4.5</text>
<text x="546.52" y="256.3" text-anchor="middle" style="font-family:'Liberation Serif',serif;font-size:16px">5</text>
<text x="607.45" y="256.3" text-anchor="middle" style="font-family:'Liberation Serif',serif;font-size:16px">5.5</text>
<text x="668.38" y="256.3" text-anchor="middle" style="font-family:'Liberation Serif',serif;font-size:16px">6</text>
<text x="729.30" y="256.3" text-anchor="middle" style="font-family:'Liberation Serif',serif;font-size:16px">6.5</text>
<text transform="translate(427,149.1) rotate(-90)" text-anchor="middle" style="font-family:'Liberation Serif',serif;font-size:21px">Zn(II)-DMA as fraction of total Zn</text>
<text x="546.3" y="282.9" textLength="123" lengthAdjust="spacing" style="font-family:'Liberation Serif',serif;font-size:21px">-log<tspan style="font-size:14px" dy="3.5">10</tspan><tspan dy="-3.5">{[H</tspan><tspan style="font-size:14px" dy="-7">+</tspan><tspan dy="7">]/c</tspan><tspan style="font-size:14px" dy="3.5">0</tspan><tspan dy="-3.5">}</tspan></text>
<text x="513.5" y="74.6" style="font-family:'Liberation Serif',serif;font-size:21px">(b)</text>
<text x="617.5" y="147.8" style="font-family:'Liberation Serif',serif;font-size:15.4px;fill:#333">[Zn(DMA)]<tspan style="font-size:10px" dy="-6">-</tspan><tspan dy="6" x="704">+</tspan></text>
<text x="617.5" y="166.6" style="font-family:'Liberation Serif',serif;font-size:15.4px;fill:#333">[Zn(DMA)OH]<tspan style="font-size:10px" dy="-6">2-</tspan></text>
<path d="M485.6,360.48 V515.6 H720.05 M485.6,515.60 h5 M485.6,476.82 h5 M485.6,438.04 h5 M485.6,399.26 h5 M485.6,360.48 h5 M501.23,515.6 v-3.8 M516.86,515.6 v-3.8 M532.49,515.6 v-3.8 M548.12,515.6 v-3.8 M563.75,515.6 v-5 M579.38,515.6 v-3.8 M595.01,515.6 v-3.8 M610.64,515.6 v-3.8 M626.27,515.6 v-3.8 M641.90,515.6 v-5 M657.53,515.6 v-3.8 M673.16,515.6 v-3.8 M688.79,515.6 v-3.8 M704.42,515.6 v-3.8 M720.05,515.6 v-5" stroke="#111" stroke-width="1.3" fill="none"/>
<text x="470.1" y="521.20" text-anchor="end" style="font-family:'Liberation Serif',serif;font-size:16px;letter-spacing:0.6px;fill:#595959">0.0</text>
<text x="470.1" y="482.42" text-anchor="end" style="font-family:'Liberation Serif',serif;font-size:16px;letter-spacing:0.6px;fill:#595959">2.0</text>
<text x="470.1" y="443.64" text-anchor="end" style="font-family:'Liberation Serif',serif;font-size:16px;letter-spacing:0.6px;fill:#595959">4.0</text>
<text x="470.1" y="404.86" text-anchor="end" style="font-family:'Liberation Serif',serif;font-size:16px;letter-spacing:0.6px;fill:#595959">6.0</text>
<text x="470.1" y="366.08" text-anchor="end" style="font-family:'Liberation Serif',serif;font-size:16px;letter-spacing:0.6px;fill:#595959">8.0</text>
<text x="485.60" y="543" text-anchor="middle" style="font-family:'Liberation Serif',serif;font-size:16px;fill:#595959">0</text>
<text x="563.75" y="543" text-anchor="middle" style="font-family:'Liberation Serif',serif;font-size:16px;fill:#595959">5</text>
<text x="641.90" y="543" text-anchor="middle" style="font-family:'Liberation Serif',serif;font-size:16px;fill:#595959">10</text>
<text x="720.05" y="543" text-anchor="middle" style="font-family:'Liberation Serif',serif;font-size:16px;fill:#595959">15</text>
<text transform="translate(426.6,460) rotate(-90)" text-anchor="middle" style="font-family:'Liberation Serif',serif;font-size:21px">pH</text>
<text x="600.2" y="569" text-anchor="middle" style="font-family:'Liberation Serif',serif;font-size:20.5px">Distance from root / mm</text>
<circle cx="485.60" cy="379.40" r="6.4" fill="none" stroke="#000" stroke-width="1.2"/>
<circle cx="516.86" cy="377.85" r="6.4" fill="none" stroke="#000" stroke-width="1.2"/>
<circle cx="548.12" cy="377.07" r="6.4" fill="none" stroke="#000" stroke-width="1.2"/>
<circle cx="579.38" cy="375.91" r="6.4" fill="none" stroke="#000" stroke-width="1.2"/>
<circle cx="610.64" cy="375.91" r="6.4" fill="none" stroke="#000" stroke-width="1.2"/>
<circle cx="641.90" cy="375.33" r="6.4" fill="none" stroke="#000" stroke-width="1.2"/>
<circle cx="485.60" cy="438.15" r="6.9" fill="#000"/>
<circle cx="501.23" cy="418.76" r="6.9" fill="#000"/>
<circle cx="516.86" cy="395.49" r="6.9" fill="#000"/>
<circle cx="532.49" cy="391.62" r="6.9" fill="#000"/>
<circle cx="548.12" cy="389.87" r="6.9" fill="#000"/>
<circle cx="563.75" cy="389.87" r="6.9" fill="#000"/>
<text x="585.5" y="408" style="font-family:'Liberation Serif',serif;font-size:18px">Kirk and Baijita, 1995</text>
<text x="532" y="456.7" style="font-family:'Liberation Serif',serif;font-size:18px">Kirk et al., 1993</text>
<text x="665.2" y="484.6" style="font-family:'Liberation Serif',serif;font-size:21px">(c)</text>
</svg></body></html>
